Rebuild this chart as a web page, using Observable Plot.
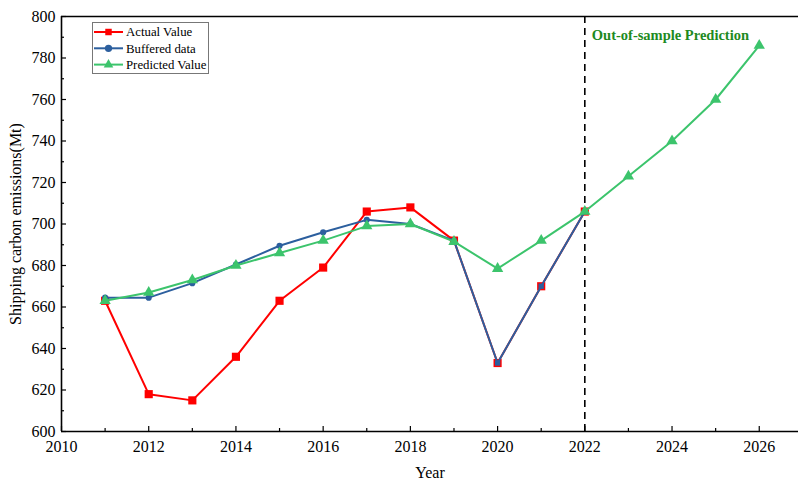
<!DOCTYPE html>
<html>
<head>
<meta charset="utf-8">
<script src="https://cdn.jsdelivr.net/npm/d3@7"></script>
<script src="https://cdn.jsdelivr.net/npm/@observablehq/plot@0.6"></script>
<style>
  html, body { margin: 0; padding: 0; background: #fff; }
  #chart { position: relative; width: 799px; height: 482px; }
  #legend { position: absolute; left: 0; top: 0; }
  #chart svg text { font-family: 'Liberation Serif', 'Times New Roman', serif; }
</style>
</head>
<body>
<div id="chart"></div>
<script>
// Shipping carbon emissions (Mt), observed and modelled, 2011–2026
const years = [2011, 2012, 2013, 2014, 2015, 2016, 2017, 2018, 2019, 2020, 2021, 2022];
const actual = [663, 618, 615, 636, 663, 679, 706, 708, 692, 633, 670, 706];
const buffered = [664.5, 664.5, 671.5, 680.5, 689.5, 696, 702, 700, 692, 633, 670, 706];
const predYears = [2011, 2012, 2013, 2014, 2015, 2016, 2017, 2018, 2019, 2020, 2021, 2022, 2023, 2024, 2025, 2026];
const predicted = [663, 667, 673, 680, 686, 692, 699, 700, 691.5, 678.5, 692, 706, 723, 740, 760, 786];

const splitYear = 2022;
const annotation = "Out-of-sample Prediction";
const xMajor = [2010, 2012, 2014, 2016, 2018, 2020, 2022, 2024, 2026];
const xMinor = [2011, 2013, 2015, 2017, 2019, 2021, 2023, 2025];
const yMajor = [600, 620, 640, 660, 680, 700, 720, 740, 760, 780, 800];
const yMinor = [610, 630, 650, 670, 690, 710, 730, 750, 770, 790];

const series = [
  {name: "Actual Value", color: "#ff0000", symbol: "square"},
  {name: "Buffered data", color: "#2c5f9e", symbol: "circle"},
  {name: "Predicted Value", color: "#3cc46c", symbol: "triangle"}
];

const actualRows = years.map((x, i) => ({x, y: actual[i]}));
const bufferedRows = years.map((x, i) => ({x, y: buffered[i], same: buffered[i] === actual[i]}));
const predictedRows = predYears.map((x, i) => ({x, y: predicted[i]}));

const font = "'Liberation Serif', 'Times New Roman', serif";

const plot = Plot.plot({
  width: 799,
  height: 482,
  marginLeft: 61,
  marginRight: 1,
  marginTop: 16,
  marginBottom: 51,
  style: {fontFamily: font, fontSize: "16px", color: "#000", background: "#fff"},
  x: {domain: [2010, 2026.9]},
  y: {domain: [600, 800]},
  marks: [
    // frame: left, top and bottom edges
    Plot.ruleX([2010], {stroke: "#000", strokeWidth: 1.6}),
    Plot.ruleY([800], {stroke: "#000", strokeWidth: 1.6}),
    Plot.ruleY([600], {stroke: "#000", strokeWidth: 1.6}),
    // inward ticks
    Plot.axisX(xMajor, {tickSize: -5, tickFormat: () => "", label: null, strokeWidth: 1.2}),
    Plot.axisX(xMinor, {tickSize: -3, tickFormat: () => "", label: null, strokeWidth: 1.2}),
    Plot.axisY(yMajor, {tickSize: -5, tickFormat: () => "", label: null, strokeWidth: 1.2}),
    Plot.axisY(yMinor, {tickSize: -3, tickFormat: () => "", label: null, strokeWidth: 1.2}),
    // tick labels and titles
    Plot.axisX(xMajor, {tickSize: 0, tickPadding: 9, tickFormat: d => String(d), fontSize: 16,
      fontFamily: font, fontVariant: "normal",
      label: "Year", labelAnchor: "center", labelArrow: "none", labelOffset: 46}),
    Plot.axisY(yMajor, {tickSize: 0, tickPadding: 6, tickFormat: d => String(d), fontSize: 16,
      fontFamily: font, fontVariant: "normal",
      label: "Shipping carbon emissions(Mt)", labelAnchor: "center", labelArrow: "none", labelOffset: 52}),
    // split between in-sample and out-of-sample
    Plot.ruleX([splitYear], {stroke: "#000", strokeWidth: 1.6, strokeDasharray: "7,5"}),
    Plot.text([annotation], {x: splitYear, y: 800, dx: 7, dy: 19, text: d => d, textAnchor: "start",
      fill: "#1e8a1e", fontWeight: "bold", fontSize: 14.5, fontFamily: font}),
    // Actual Value
    Plot.line(actualRows, {x: "x", y: "y", stroke: series[0].color, strokeWidth: 2}),
    Plot.dot(actualRows, {x: "x", y: "y", symbol: "square", r: 4.6, fill: series[0].color, stroke: "none"}),
    // Buffered data
    Plot.line(bufferedRows, {x: "x", y: "y", stroke: series[1].color, strokeWidth: 2}),
    Plot.dot(bufferedRows, {x: "x", y: "y", symbol: d => d.same ? "square" : "circle",
      r: d => d.same ? 4 : 4.2, fill: series[1].color, stroke: "none"}),
    // Predicted Value
    Plot.line(predictedRows, {x: "x", y: "y", stroke: series[2].color, strokeWidth: 2}),
    Plot.dot(predictedRows, {x: "x", y: "y", symbol: "triangle", r: 4.2, fill: series[2].color, stroke: "none"})
  ]
});

const chart = document.getElementById("chart");
chart.appendChild(plot);

// legend box, top-left inside the plot area
const lg = d3.select(chart).append("svg")
  .attr("id", "legend").attr("width", 799).attr("height", 482)
  .style("pointer-events", "none");
lg.append("rect").attr("x", 92.5).attr("y", 22.5).attr("width", 116).attr("height", 51)
  .attr("fill", "#fff").attr("stroke", "#777").attr("stroke-width", 1);
const entries = lg.selectAll("g.entry").data(series).join("g")
  .attr("transform", (d, i) => `translate(0,${32 + i * 16.3})`);
entries.append("line").attr("x1", 94).attr("x2", 123).attr("y1", 0).attr("y2", 0)
  .attr("stroke", d => d.color).attr("stroke-width", 2);
const symbolTypes = {square: d3.symbolSquare, circle: d3.symbolCircle, triangle: d3.symbolTriangle};
entries.append("path")
  .attr("transform", "translate(108.5,0)")
  .attr("d", d => d3.symbol(symbolTypes[d.symbol], d.symbol === "triangle" ? 40 : 42)())
  .attr("fill", d => d.color);
entries.append("text").attr("x", 126).attr("y", 0).attr("dy", "0.35em")
  .attr("font-family", font).attr("font-size", 12.8).attr("fill", "#000")
  .text(d => d.name);
</script>
</body>
</html>
